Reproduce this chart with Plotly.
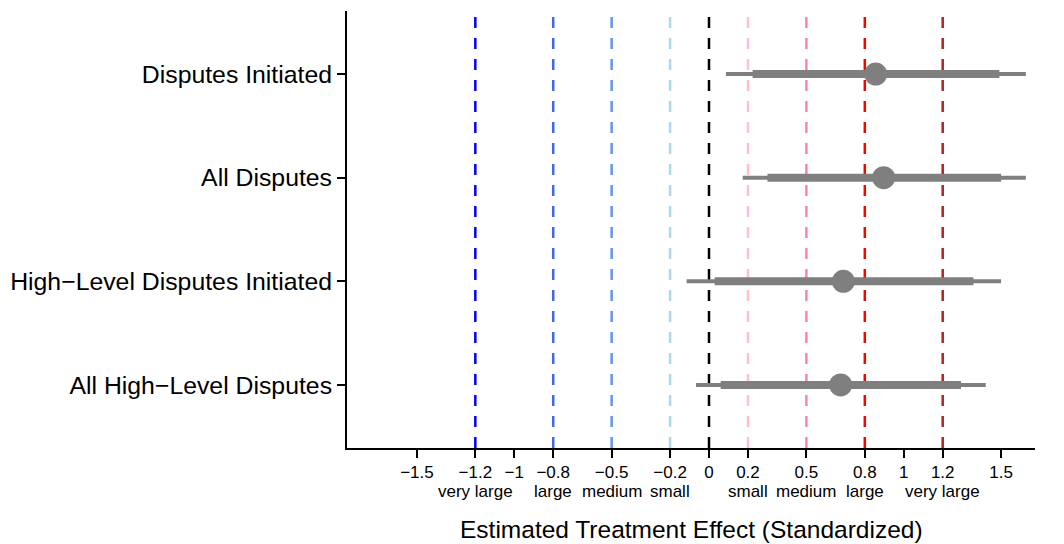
import plotly.graph_objects as go

outcomes = ["Disputes Initiated", "All Disputes", "High\u2212Level Disputes Initiated", "All High\u2212Level Disputes"]
y_pos = [4, 3, 2, 1]
estimate = [0.856, 0.897, 0.69, 0.676]
ci95_lo = [0.087, 0.173, -0.115, -0.067]
ci95_hi = [1.627, 1.627, 1.50, 1.421]
ci90_lo = [0.224, 0.30, 0.029, 0.06]
ci90_hi = [1.491, 1.50, 1.358, 1.294]

ref_values = [-1.2, -0.8, -0.5, -0.2, 0, 0.2, 0.5, 0.8, 1.2]
ref_colors = ["#0000FF", "#4169E1", "#6495ED", "#ADD8E6", "#000000", "#FFC0CB", "#FF82AB", "#FF0000", "#B22222"]

tick_vals = [-1.5, -1.2, -1, -0.8, -0.5, -0.2, 0, 0.2, 0.5, 0.8, 1, 1.2, 1.5]
tick_text = ["\u22121.5", "\u22121.2", "\u22121", "\u22120.8", "\u22120.5", "\u22120.2", "0", "0.2", "0.5", "0.8", "1", "1.2", "1.5"]
size_vals = [-1.2, -0.8, -0.5, -0.2, 0.2, 0.5, 0.8, 1.2]
size_text = ["very large", "large", "medium", "small", "small", "medium", "large", "very large"]
x_title = "Estimated Treatment Effect (Standardized)"

gray = "#7F7F7F"
fig = go.Figure()

shapes = []
for v, c in zip(ref_values, ref_colors):
    shapes.append(dict(type="line", xref="x", yref="paper", x0=v, x1=v, y0=0, y1=1,
                       line=dict(color=c, width=2.5, dash="11px,10px"), layer="below"))

for i in range(len(outcomes)):
    fig.add_trace(go.Scatter(x=[ci95_lo[i], ci95_hi[i]], y=[y_pos[i], y_pos[i]], mode="lines",
                             line=dict(color=gray, width=4), showlegend=False, hoverinfo="skip"))
    fig.add_trace(go.Scatter(x=[ci90_lo[i], ci90_hi[i]], y=[y_pos[i], y_pos[i]], mode="lines",
                             line=dict(color=gray, width=8), showlegend=False, hoverinfo="skip"))

fig.add_trace(go.Scatter(x=estimate, y=y_pos, mode="markers",
                         marker=dict(color=gray, size=23, line=dict(width=0)), showlegend=False))

annotations = []
for v, t in zip(size_vals, size_text):
    annotations.append(dict(x=v, y=-0.1, xref="x", yref="paper", text=t, showarrow=False,
                            font=dict(size=17, color="black"), xanchor="center", yanchor="middle"))
annotations.append(dict(x=0.5, y=-0.1876, xref="paper", yref="paper", text=x_title, showarrow=False,
                        font=dict(size=24.5, color="black"), xanchor="center", yanchor="middle"))

font_family = "Liberation Sans, Arial, Helvetica, sans-serif"
fig.update_layout(
    width=1064, height=544,
    margin=dict(l=347, r=29, t=11, b=96),
    paper_bgcolor="white", plot_bgcolor="white",
    font=dict(family=font_family, color="black"),
    shapes=shapes,
    annotations=annotations,
    xaxis=dict(range=[-1.859, 1.674], tickvals=tick_vals, ticktext=tick_text,
               tickfont=dict(size=17), showgrid=False, zeroline=False, automargin=False,
               showline=True, linecolor="black", linewidth=2,
               ticks="outside", ticklen=8, tickwidth=2, tickcolor="black"),
    yaxis=dict(range=[0.392, 4.608], tickvals=y_pos, ticktext=outcomes,
               tickfont=dict(size=24.8), showgrid=False, zeroline=False, automargin=False,
               showline=True, linecolor="black", linewidth=2,
               ticks="outside", ticklen=8, tickwidth=2, tickcolor="black"),
)

fig.write_html("out.html", config={"displayModeBar": False},
               post_script="document.body.style.margin='0px';document.body.style.overflow='hidden';")
